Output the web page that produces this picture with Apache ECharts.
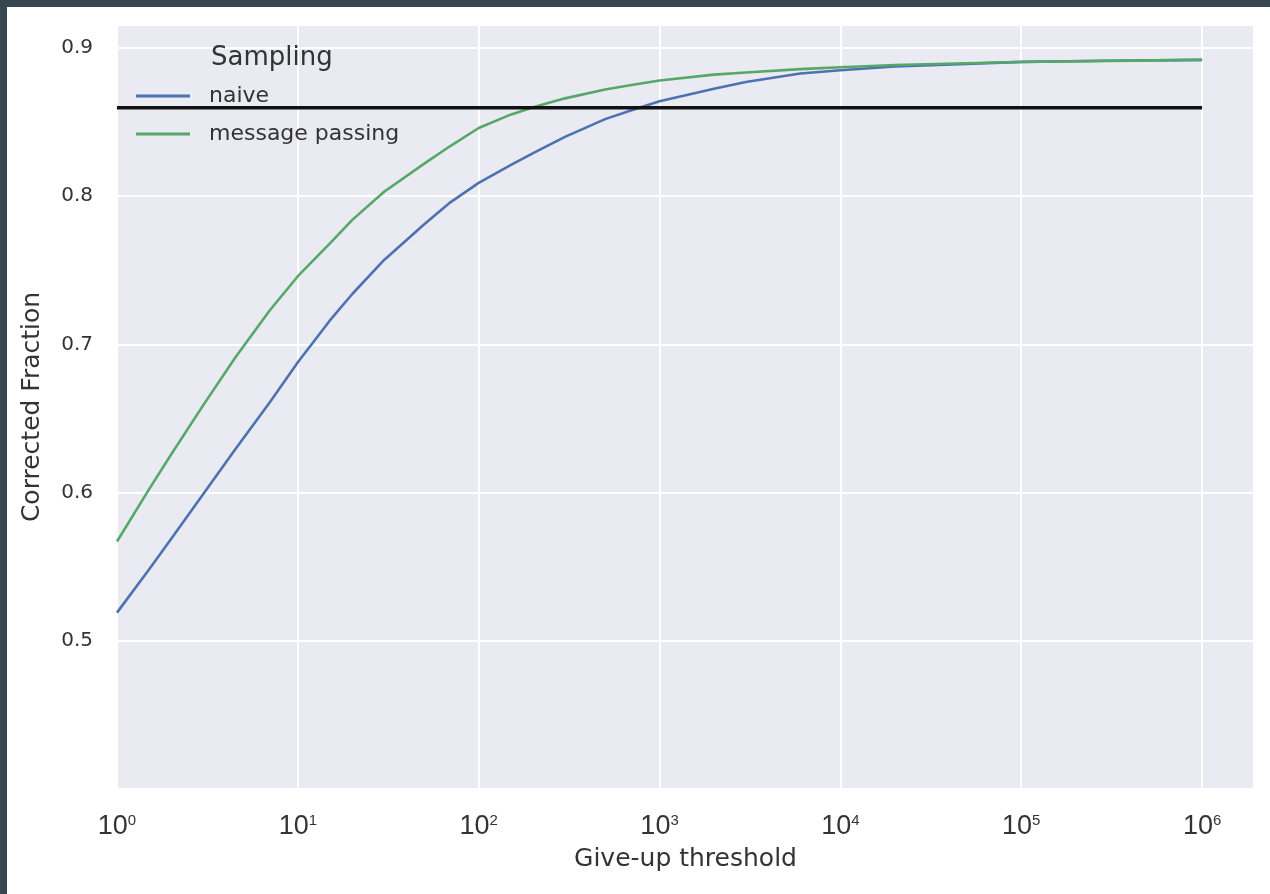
<!DOCTYPE html>
<html>
<head>
<meta charset="utf-8">
<script src="https://cdn.jsdelivr.net/npm/echarts@6/dist/echarts.min.js"></script>
<style>
  html, body { margin: 0; padding: 0; background: #36474f; }
  #chart { position: absolute; left: 7px; top: 7px; width: 1263px; height: 887px; background: #ffffff; }
</style>
</head>
<body>
<div id="chart"></div>
<script>
// Give-up threshold (x, log scale) and corrected fraction per sampling method
const giveUpThreshold = [1, 1.5, 2, 3, 4.5, 7, 10, 15, 20, 30, 50, 70, 100, 150, 200, 300, 500, 700,
    1000, 2000, 3000, 6000, 10000, 20000, 50000, 100000, 300000, 1000000];
const naive = [0.519, 0.548, 0.569, 0.599, 0.629, 0.661, 0.688, 0.716, 0.734, 0.757, 0.781, 0.796,
    0.809, 0.821, 0.829, 0.840, 0.852, 0.858, 0.864, 0.8725, 0.877, 0.8828, 0.885, 0.8875, 0.8893,
    0.8906, 0.8914, 0.892];
const messagePassing = [0.567, 0.602, 0.626, 0.659, 0.691, 0.723, 0.746, 0.768, 0.784, 0.803, 0.822,
    0.834, 0.846, 0.855, 0.860, 0.866, 0.872, 0.875, 0.878, 0.882, 0.8835, 0.8857, 0.887, 0.8885,
    0.8897, 0.8905, 0.8913, 0.892];
const referenceLevel = 0.8596;
const referenceSpan = [1, 1000000];
const yTicks = [0.5, 0.6, 0.7, 0.8, 0.9];

const fontFamily = 'DejaVu Sans';
const textColor = '#333333';
const toPoints = (ys) => ys.map((y, i) => [Math.log10(giveUpThreshold[i]), y]);

const chart = echarts.init(document.getElementById('chart'));

const option = {
    backgroundColor: '#ffffff',
    animation: false,
    textStyle: { fontFamily: fontFamily, color: textColor },
    title: {
        text: 'Sampling',
        left: 199,
        top: 33,
        textStyle: { fontFamily: fontFamily, fontSize: 26, fontWeight: 'normal', color: textColor }
    },
    legend: {
        data: ['naive', 'message passing'],
        orient: 'vertical',
        left: 124,
        top: 72,
        itemWidth: 54,
        itemHeight: 12,
        itemGap: 14,
        icon: 'path://M0,0 L54,0 L54,3 L0,3 Z',
        textStyle: { fontFamily: fontFamily, fontSize: 22, color: textColor, lineHeight: 24, padding: [0, 0, 0, 14] }
    },
    grid: {
        left: 110,
        top: 18,
        width: 1137,
        height: 764,
        show: true,
        backgroundColor: '#eaeaf2',
        borderWidth: 0
    },
    xAxis: {
        type: 'value',
        min: 0,
        max: 6.287,
        interval: 1,
        name: 'Give-up threshold',
        nameLocation: 'middle',
        nameGap: 58,
        nameTextStyle: { fontFamily: fontFamily, fontSize: 25, color: textColor },
        axisLine: { show: false },
        axisTick: { show: false },
        splitLine: { lineStyle: { color: '#ffffff', width: 2 } },
        axisLabel: {
            margin: 24,
            showMaxLabel: false,
            formatter: (v) => '{b|10}{s|' + Math.round(v) + '}',
            rich: {
                b: { fontFamily: 'Liberation Sans', fontSize: 27, color: textColor, lineHeight: 28 },
                s: { fontFamily: 'Liberation Sans', fontSize: 15, color: textColor, lineHeight: 14, verticalAlign: 'top' }
            }
        }
    },
    yAxis: {
        type: 'value',
        min: 0.4,
        max: 0.9155,
        interval: 0.1,
        name: 'Corrected Fraction',
        nameLocation: 'middle',
        nameGap: 72,
        nameTextStyle: { fontFamily: fontFamily, fontSize: 25, color: textColor },
        axisLine: { show: false },
        axisTick: { show: false },
        splitLine: { lineStyle: { color: '#ffffff', width: 2 } },
        axisLabel: {
            margin: 24,
            showMinLabel: false,
            showMaxLabel: false,
            fontFamily: fontFamily,
            fontSize: 20,
            color: textColor,
            formatter: (v) => (yTicks.some(t => Math.abs(t - v) < 1e-6) ? v.toFixed(1) : '')
        }
    },
    series: [
        {
            name: 'naive',
            type: 'line',
            data: toPoints(naive),
            showSymbol: false,
            lineStyle: { color: '#4c72b0', width: 2.6, join: 'round' },
            itemStyle: { color: '#4c72b0' },
            z: 3
        },
        {
            name: 'message passing',
            type: 'line',
            data: toPoints(messagePassing),
            showSymbol: false,
            lineStyle: { color: '#55a868', width: 2.6, join: 'round' },
            itemStyle: { color: '#55a868' },
            z: 4
        },
        {
            name: 'reference',
            type: 'line',
            data: referenceSpan.map(x => [Math.log10(x), referenceLevel]),
            showSymbol: false,
            lineStyle: { color: '#111111', width: 3.5 },
            itemStyle: { color: '#111111' },
            z: 5
        }
    ]
};

chart.setOption(option);
</script>
</body>
</html>
